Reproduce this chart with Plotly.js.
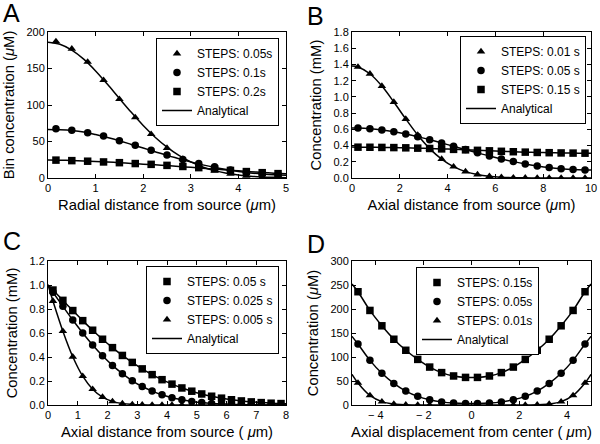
<!DOCTYPE html>
<html>
<head>
<meta charset="utf-8">
<script src="https://cdn.plot.ly/plotly-3.0.1.min.js"></script>
<style>html,body{margin:0;padding:0;background:#fff;}#chart{width:600px;height:444px;}</style>
</head>
<body>
<div id="chart"></div>
<script>
// ---------- Panel A ----------
const xA = [0.167,0.5,0.833,1.167,1.5,1.833,2.167,2.5,2.833,3.167,3.5,3.833,4.167,4.5,4.833];
const aFast = [187,177,159,134,108,83,60,41,26,17,10,5.5,3,1.4,0.7];
const aMid  = [67.5,65.5,62,57.5,51,45,38,31.5,25.5,20,15.5,11,7.8,5.8,4.5];
const aSlow = [24.5,23.8,23,22,21,19.8,18.7,17.3,15.8,14.2,12.4,10.4,8.8,7.3,6];
const xALine = [0,0.25,0.5,0.75,1,1.25,1.5,1.75,2,2.25,2.5,2.75,3,3.25,3.5,3.75,4,4.25,4.5,4.75,5];
const aFastLine = [186,183.3,175.2,162.8,146.7,128.3,109,89.9,71.9,55.9,42.3,30.9,22,15.1,10.1,6.6,4.2,2.5,1.5,0.9,0.5];
const aMidLine  = [66.5,66,65,63,59.5,55.5,51,46,41,36,31,26.5,22,18,14.5,11.5,9,7,5.5,4.3,3.6];
const aSlowLine = [24.5,24.4,24,23.3,22.6,21.8,21,20,19,18,17,15.8,14.6,13.4,12.2,11,9.8,8.7,7.6,6.6,5.8];
const namesA = ["STEPS: 0.05s","STEPS: 0.1s","STEPS: 0.2s"];

// ---------- Panel B ----------
const xB = [0.25,0.75,1.25,1.75,2.25,2.75,3.25,3.75,4.25,4.75,5.25,5.75,6.25,6.75,7.25,7.75,8.25,8.75,9.25,9.75];
const bFast = [1.369,1.285,1.133,0.937,0.727,0.530,0.362,0.233,0.140,0.079,0.042,0.021,0.010,0.004,0.002,0.001,0,0,0,0];
const bMid  = [0.616,0.608,0.593,0.571,0.543,0.510,0.472,0.432,0.391,0.351,0.310,0.271,0.235,0.202,0.173,0.149,0.129,0.114,0.104,0.099];
const bSlow = [0.380,0.379,0.377,0.375,0.372,0.368,0.364,0.359,0.353,0.347,0.341,0.335,0.329,0.324,0.319,0.315,0.312,0.309,0.307,0.306];
const bStart = [1.38,0.617,0.381];
const bEnd = [0,0.098,0.306];
const namesB = ["STEPS: 0.01 s","STEPS: 0.05 s","STEPS: 0.15 s"];

// ---------- Panel C ----------
const xC = [0.167,0.5,0.833,1.167,1.5,1.833,2.167,2.5,2.833,3.167,3.5,3.833,4.167,4.5,4.833,5.167,5.5,5.833,6.167,6.5,6.833,7.167,7.5,7.833];
const cSlow = [0.958,0.872,0.787,0.703,0.623,0.548,0.478,0.413,0.355,0.301,0.253,0.211,0.174,0.142,0.115,0.092,0.073,0.057,0.044,0.034,0.026,0.020,0.015,0.012];
const cMid  = [0.940,0.822,0.708,0.600,0.500,0.410,0.330,0.261,0.202,0.154,0.116,0.085,0.061,0.043,0.030,0.020,0.013,0.009,0.006,0.004,0.002,0.001,0.001,0];
const cFast = [0.866,0.615,0.402,0.240,0.132,0.066,0.030,0.012,0.005,0.002,0,0,0,0,0,0,0,0,0,0,0,0,0,0];
const cStart = [1,1,1];
const cEnd = [0.010,0,0];
const namesC = ["STEPS: 0.05 s","STEPS: 0.025 s","STEPS: 0.005 s"];

// ---------- Panel D ----------
const xD = [-4.75,-4.25,-3.75,-3.25,-2.75,-2.25,-1.75,-1.25,-0.75,-0.25,0.25,0.75,1.25,1.75,2.25,2.75,3.25,3.75,4.25,4.75];
const dSlow = [236,197,165,137,114,95,79,67.5,60.5,57.5,57.5,60.5,67.5,79,95,114,137,165,197,236];
const dMid  = [127,93,66,45,29,18,11,6.5,4,3,3,4,6.5,11,18,29,45,66,93,127];
const dFast = [46,20,7,2,0.5,0.1,0,0,0,0,0,0,0,0,0.1,0.5,2,7,20,46];
const dEdge = [252,143,64];
const namesD = ["STEPS: 0.15s","STEPS: 0.05s","STEPS: 0.01s"];
const dTickVals = [-4,-2,0,2,4];
const dTickText = ["\u2212 4","\u2212 2","0","2","4"];

const FONT = "Liberation Sans, Arial, Helvetica, sans-serif";
const MS = 7.5;
const TITLE_SIZE = 14.8;

function markers(x, y, name, symbol, xa, ya, leg) {
  return {x:x, y:y, name:name, type:'scatter', mode:'markers', xaxis:xa, yaxis:ya, legend:leg,
    marker:{symbol:symbol, size:MS, color:'black'}};
}
function line(x, y, xa, ya, leg, show) {
  return {x:x, y:y, name:'Analytical', type:'scatter', mode:'lines', xaxis:xa, yaxis:ya, legend:leg,
    showlegend:show, line:{color:'black', width:1.5, shape:'spline', smoothing:0.9}, hoverinfo:'skip'};
}
function withEnds(x0, xs, x1) { return [x0].concat(xs, [x1]); }

const traces = [
  markers(xA, aFast, namesA[0], 'triangle-up', 'x', 'y', 'legend'),
  markers(xA, aMid, namesA[1], 'circle', 'x', 'y', 'legend'),
  markers(xA, aSlow, namesA[2], 'square', 'x', 'y', 'legend'),
  line(xALine, aFastLine, 'x', 'y', 'legend', true),
  line(xALine, aMidLine, 'x', 'y', 'legend', false),
  line(xALine, aSlowLine, 'x', 'y', 'legend', false),

  markers(xB, bFast, namesB[0], 'triangle-up', 'x2', 'y2', 'legend2'),
  markers(xB, bMid, namesB[1], 'circle', 'x2', 'y2', 'legend2'),
  markers(xB, bSlow, namesB[2], 'square', 'x2', 'y2', 'legend2'),
  line(withEnds(0, xB, 10), withEnds(bStart[0], bFast, bEnd[0]), 'x2', 'y2', 'legend2', true),
  line(withEnds(0, xB, 10), withEnds(bStart[1], bMid, bEnd[1]), 'x2', 'y2', 'legend2', false),
  line(withEnds(0, xB, 10), withEnds(bStart[2], bSlow, bEnd[2]), 'x2', 'y2', 'legend2', false),

  markers(xC, cSlow, namesC[0], 'square', 'x3', 'y3', 'legend3'),
  markers(xC, cMid, namesC[1], 'circle', 'x3', 'y3', 'legend3'),
  markers(xC, cFast, namesC[2], 'triangle-up', 'x3', 'y3', 'legend3'),
  line(withEnds(0, xC, 8), withEnds(cStart[0], cSlow, cEnd[0]), 'x3', 'y3', 'legend3', true),
  line(withEnds(0, xC, 8), withEnds(cStart[1], cMid, cEnd[1]), 'x3', 'y3', 'legend3', false),
  line(withEnds(0, xC, 8), withEnds(cStart[2], cFast, cEnd[2]), 'x3', 'y3', 'legend3', false),

  markers(xD, dSlow, namesD[0], 'square', 'x4', 'y4', 'legend4'),
  markers(xD, dMid, namesD[1], 'circle', 'x4', 'y4', 'legend4'),
  markers(xD, dFast, namesD[2], 'triangle-up', 'x4', 'y4', 'legend4'),
  line(withEnds(-5, xD, 5), withEnds(dEdge[0], dSlow, dEdge[0]), 'x4', 'y4', 'legend4', true),
  line(withEnds(-5, xD, 5), withEnds(dEdge[1], dMid, dEdge[1]), 'x4', 'y4', 'legend4', false),
  line(withEnds(-5, xD, 5), withEnds(dEdge[2], dFast, dEdge[2]), 'x4', 'y4', 'legend4', false)
];

function ax(domain, anchor, range, dtick, title, standoff, extra) {
  return Object.assign({
    domain:domain, anchor:anchor, range:range, dtick:dtick, tick0:range[0],
    showgrid:false, zeroline:false, showline:true, linecolor:'black', linewidth:1,
    mirror:'allticks', ticks:'inside', ticklen:4, tickwidth:1, tickcolor:'black',
    tickfont:{family:FONT, size:11, color:'black'},
    title:{text:title, font:{family:FONT, size:TITLE_SIZE, color:'black'}, standoff:standoff},
    automargin:false, fixedrange:true
  }, extra || {});
}

const xdL = [48/600, 286/600], xdR = [352/600, 591/600];
const ydT = [1-178/444, 1-32/444], ydB = [1-405/444, 1-261/444];
const uM = "(<i>\u03bc</i>M)", um = "(<i>\u03bc</i>m)", um2 = "( <i>\u03bc</i>m)";

function leg(x, y, xanchor) {
  return {x:x, y:y, xanchor:xanchor, yanchor:'top', xref:'paper', yref:'paper',
    bgcolor:'white', bordercolor:'black', borderwidth:1, tracegroupgap:0,
    font:{family:FONT, size:12, color:'black'}, itemwidth:30};
}
function letter(t, x, y) {
  return {text:t, x:x, y:y, xref:'paper', yref:'paper', xanchor:'left', yanchor:'middle',
    showarrow:false, font:{family:FONT, size:25, color:'black'}};
}

const layout = {
  width:600, height:444, margin:{l:0, r:0, t:0, b:0},
  paper_bgcolor:'white', plot_bgcolor:'white',
  font:{family:FONT, color:'black'},
  xaxis: ax(xdL, 'y', [0,5], 1, "Radial distance from source " + um, 6),
  yaxis: ax(ydT, 'x', [0,200], 50, "Bin concentration " + uM, 8),
  xaxis2: ax(xdR, 'y2', [0,10], 2, "Axial distance from source " + um, 6),
  yaxis2: ax(ydT, 'x2', [0,1.8], 0.2, "Concentration (mM)", 8, {tickformat:'.1f'}),
  xaxis3: ax(xdL, 'y3', [0,8], 1, "Axial distance from source " + um2, 6),
  yaxis3: ax(ydB, 'x3', [0,1.2], 0.2, "Concentration (mM)", 8, {tickformat:'.1f'}),
  xaxis4: ax(xdR, 'y4', [-5,5], 2, "Axial displacement from center " + um2, 6, {tickmode:'array', tickvals:dTickVals, ticktext:dTickText}),
  yaxis4: ax(ydB, 'x4', [0,300], 50, "Concentration " + uM, 8),
  legend: leg(279/600, 1-38/444, 'right'),
  legend2: leg(586/600, 1-36/444, 'right'),
  legend3: leg(279/600, 1-266/444, 'right'),
  legend4: leg(416/600, 1-267/444, 'left'),
  annotations: [
    letter('A', 1/600, 1-13/444),
    letter('B', 305/600, 1-16/444),
    letter('C', 1/600, 1-241/444),
    letter('D', 305/600, 1-244/444)
  ]
};

Plotly.newPlot('chart', traces, layout, {displayModeBar:false, staticPlot:true});
</script>
</body>
</html>
